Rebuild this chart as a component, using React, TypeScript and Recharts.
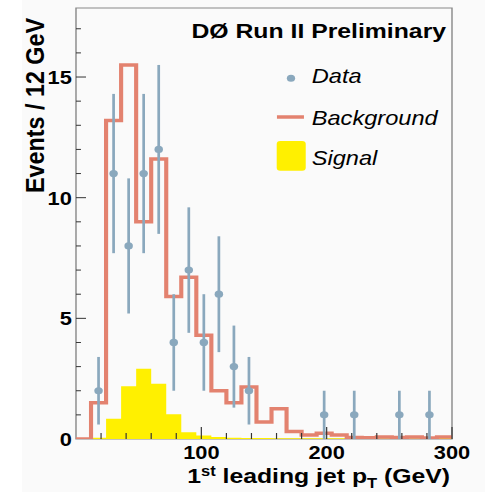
import React from 'react';
import { ComposedChart, Line, Area, Scatter, ErrorBar, XAxis, YAxis, ReferenceArea, Legend, Label } from 'recharts';

// 12 GeV bins, 0..300
const binEdges = [0, 12, 24, 36, 48, 60, 72, 84, 96, 108, 120, 132, 144, 156, 168, 180, 192, 204, 216, 228, 240, 252, 264, 276, 288, 300];
const background = [0, 1.5, 13.2, 15.5, 9.0, 11.6, 5.9, 6.7, 4.3, 2.0, 1.5, 2.15, 0.7, 1.25, 0.31, 0.17, 0.24, 0.17, 0.06, 0.05, 0.08, 0.06, 0.08, 0.04, 0.08];
const signal = [0, 0.05, 0.84, 2.19, 2.91, 2.29, 1.03, 0.28, 0.15, 0.08, 0.05, 0.04, 0.04, 0.03, 0.03, 0.03, 0.03, 0.03, 0.02, 0.02, 0.02, 0.02, 0.02, 0.02, 0.04];

const dataX = [18, 30, 42, 54, 66, 78, 90, 102, 114, 126, 138, 198, 222, 258, 282];
const dataY = [2, 11, 8, 11, 12, 4, 7, 4, 6, 3, 2, 1, 1, 1, 1];
const dataErr = [1.4, 3.3, 2.8, 3.3, 3.5, 2, 2.6, 2, 2.4, 1.7, 1.4, 1, 1, 1, 1];

const xTicks = [0, 20, 40, 60, 80, 100, 120, 140, 160, 180, 200, 220, 240, 260, 280, 300];
const xLabels = [100, 200, 300];
const yTicks = [0, 1, 2, 3, 4, 5, 6, 7, 8, 9, 10, 11, 12, 13, 14, 15, 16, 17];
const yLabels = [0, 5, 10, 15];
const yMax = 17.86;

const FONT = '"Liberation Sans", Arial, Helvetica, sans-serif';
const BG_COLOR = '#e3826f';
const SIG_COLOR = '#fff000';
const DATA_COLOR = '#8aa8bd';
const STRETCH = 1.18; // original picture is stretched horizontally

const bgSteps = binEdges.map((x, i) => ({ x, y: background[Math.min(i, background.length - 1)] }));
const sigSteps = binEdges.map((x, i) => ({ x, y: signal[Math.min(i, signal.length - 1)] }));
const points = dataX.map((x, i) => ({ x, y: dataY[i], err: dataErr[i] }));

const XTick = (props: any) => {
  const { x, y, payload } = props;
  const v = payload.value;
  const major = xLabels.includes(v);
  if (v === 0) return null;
  return (
    <g>
      <line x1={x} x2={x} y1={y} y2={y - (major ? 12 : 6)} stroke="#333" strokeWidth={1} />
      {major && (
        <text x={x} y={y + 20.5} textAnchor="middle" fontSize={18.5} fontWeight="bold" fontFamily={FONT} fill="#000">
          {v}
        </text>
      )}
    </g>
  );
};

const YTick = (props: any) => {
  const { x, y, payload } = props;
  const v = payload.value;
  const major = yLabels.includes(v);
  return (
    <g>
      {v !== 0 && <line x1={x} x2={x + (major ? 8.5 : 4.2)} y1={y} y2={y} stroke="#333" strokeWidth={1} />}
      {major && (
        <text x={x - 3.5} y={y + 7} textAnchor="end" fontSize={18.5} fontWeight="bold" fontFamily={FONT} fill="#000">
          {v}
        </text>
      )}
    </g>
  );
};

const LegendBox = () => (
  <svg width={411} height={200} style={{ overflow: 'visible' }}>
    <text x={378} y={38.3} textAnchor="end" fontSize={21} fontWeight="bold" fontFamily={FONT} fill="#000">
      DØ Run II Preliminary
    </text>
    <circle cx={246.6} cy={78.3} r={3.5} fill={DATA_COLOR} />
    <text x={264.2} y={83.3} fontSize={20} fontStyle="italic" fontFamily={FONT} fill="#000">Data</text>
    <line x1={234.7} x2={257.6} y1={117} y2={117} stroke={BG_COLOR} strokeWidth={3.5} />
    <text x={264.2} y={125} fontSize={20} fontStyle="italic" fontFamily={FONT} fill="#000">Background</text>
    <rect x={234.5} y={141} width={24.6} height={29.7} rx={3} fill={SIG_COLOR} />
    <text x={264.2} y={165} fontSize={20} fontStyle="italic" fontFamily={FONT} fill="#000">Signal</text>
  </svg>
);

const YTitle = () => (
  <text x={37} y={18} transform="rotate(-90 37 18)" textAnchor="end" fontSize={22} fontWeight="bold" fontFamily={FONT} fill="#000" textLength={175} lengthAdjust="spacingAndGlyphs">
    Events / 12 GeV
  </text>
);

const XTitle = () => (
  <text x={381.4} y={483} textAnchor="end" fontSize={21} fontWeight="bold" fontFamily={FONT} fill="#000">
    1<tspan dy={-7} fontSize={14}>st</tspan>
    <tspan dy={7}> leading jet p</tspan>
    <tspan dy={5} fontSize={14}>T</tspan>
    <tspan dy={-5}> (GeV)</tspan>
  </text>
);

export default function App() {
  return (
    <div style={{ position: 'absolute', left: 0, top: 0, width: 485, height: 492, background: '#fafafa', overflow: 'hidden' }}>
      <div style={{ position: 'absolute', left: 0, top: 0, width: 22, height: 492, background: '#fff' }} />
      <div style={{ position: 'absolute', left: 0, top: 0, width: 411, height: 492, transform: `scaleX(${STRETCH})`, transformOrigin: '0 0' }}>
        <ComposedChart width={411} height={492} margin={{ top: 8, right: 27.95, bottom: 0, left: 0 }}>
          <XAxis
            type="number"
            dataKey="x"
            domain={[0, 300]}
            ticks={xTicks}
            interval={0}
            tick={<XTick />}
            tickSize={0}
            tickMargin={0}
            tickLine={false}
            axisLine={false}
            height={53}
            allowDataOverflow
          >
            <Label content={<XTitle />} />
          </XAxis>
          <YAxis
            type="number"
            domain={[0, yMax]}
            ticks={yTicks}
            interval={0}
            tick={<YTick />}
            tickSize={0}
            tickMargin={0}
            tickLine={false}
            axisLine={false}
            width={64.4}
            allowDataOverflow
          >
            <Label content={<YTitle />} />
          </YAxis>
          <ReferenceArea x1={0} x2={300} y1={0} y2={yMax} fill="none" stroke="#888" strokeWidth={1.2} fillOpacity={0} />
          <Area
            data={sigSteps}
            dataKey="y"
            type="stepAfter"
            fill={SIG_COLOR}
            fillOpacity={1}
            stroke="none"
            isAnimationActive={false}
          />
          <Line
            data={bgSteps}
            dataKey="y"
            type="stepAfter"
            stroke={BG_COLOR}
            strokeWidth={3.5}
            dot={false}
            isAnimationActive={false}
          />
          <Scatter
            data={points}
            dataKey="y"
            fill={DATA_COLOR}
            isAnimationActive={false}
            shape={(p: any) => <circle cx={p.cx} cy={p.cy} r={3.6} fill={DATA_COLOR} />}
          >
            <ErrorBar dataKey="err" direction="y" width={0} stroke={DATA_COLOR} strokeWidth={2.3} />
          </Scatter>
          <Legend
            layout="vertical"
            align="center"
            verticalAlign="middle"
            content={<LegendBox />}
            wrapperStyle={{ left: 0, top: 0, width: 411, height: 200 }}
          />
        </ComposedChart>
      </div>
    </div>
  );
}
